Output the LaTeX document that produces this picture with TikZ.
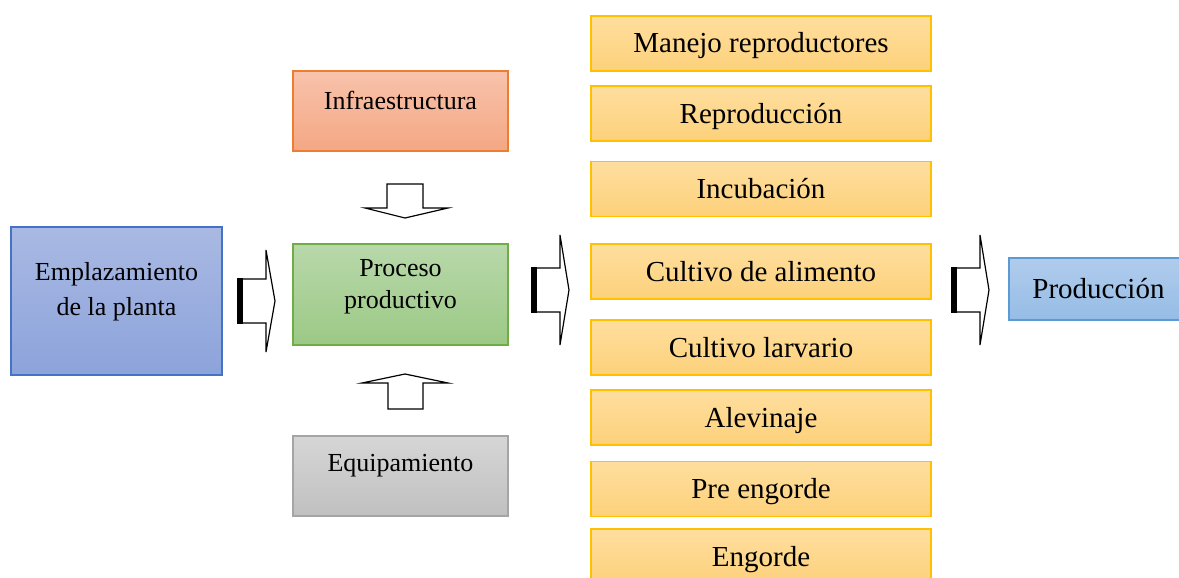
\documentclass[tikz,border=0pt]{standalone}
\usepackage{fontspec}
\setmainfont{Liberation Serif}
\definecolor{bluetop}{HTML}{A9B9E3}
\definecolor{bluebot}{HTML}{8CA3DB}
\definecolor{blueline}{HTML}{4472C4}
\definecolor{orgtop}{HTML}{F8C3AC}
\definecolor{orgbot}{HTML}{F4A784}
\definecolor{orgline}{HTML}{ED7D31}
\definecolor{grntop}{HTML}{B8D8AA}
\definecolor{grnbot}{HTML}{9CC986}
\definecolor{grnline}{HTML}{70AD47}
\definecolor{grytop}{HTML}{D6D6D6}
\definecolor{grybot}{HTML}{C0C0C0}
\definecolor{gryline}{HTML}{A5A5A5}
\definecolor{yeltop}{HTML}{FEDE9E}
\definecolor{yelbot}{HTML}{FDD17B}
\definecolor{yelline}{HTML}{FFC000}
\definecolor{lbtop}{HTML}{B0CCEC}
\definecolor{lbbot}{HTML}{96BCE6}
\definecolor{lbline}{HTML}{5B9BD5}
\tikzset{
  pbox/.style n args={3}{draw=#3, line width=1.2pt, top color=#1, bottom color=#2, rectangle, inner sep=0pt},
  ltxt/.style={font=\fontsize{26}{35}\selectfont, align=center, text=black},
  rtxt/.style={font=\fontsize{29}{35}\selectfont, align=center, text=black},
  stagebox/.style={pbox={yeltop}{yelbot}{yelline}, minimum width=340pt, minimum height=55pt, rtxt, text height=24pt, text depth=5pt},
  blockarr/.style={draw=black, fill=white, line width=1.2pt, line join=miter},
}
\newcommand\blockarrowright[3]{%
  \draw[blockarr] (#1,#2-22) -- (#1+28,#2-22) -- (#1+28,#2-#3) -- (#1+37,#2) -- (#1+28,#2+#3) -- (#1+28,#2+22) -- (#1,#2+22) -- cycle;
  \fill[black] (#1-1,#2-22.6) rectangle (#1+5,#2+22.6);}
\begin{document}
\begin{tikzpicture}[x=1pt,y=-1pt]
\useasboundingbox (0,0) rectangle (1179,578);
\clip (0,0) rectangle (1179,578);
% left box
\node[pbox={bluetop}{bluebot}{blueline}, minimum width=211pt, minimum height=148pt] (empl) at (116.5,301) {};
\node[ltxt] (emplt) at (116.5,292) {Emplazamiento\\de la planta};
% middle column
\node[pbox={orgtop}{orgbot}{orgline}, minimum width=215pt, minimum height=80pt] (infra) at (400.5,111) {};
\node[ltxt] (infrat) at (400.5,100) {Infraestructura};
\node[pbox={grntop}{grnbot}{grnline}, minimum width=215pt, minimum height=101pt] (proc) at (400.5,294.5) {};
\node[ltxt, font=\fontsize{26}{32}\selectfont] (proct) at (400.5,287) {Proceso\\productivo};
\node[pbox={grytop}{grybot}{gryline}, minimum width=215pt, minimum height=80pt] (equip) at (400.5,476) {};
\node[ltxt] (equipt) at (400.5,466) {Equipamiento};
% right column
\node[stagebox] (s1) at (761,43.5) {Manejo reproductores};
\node[stagebox] (s2) at (761,113.5) {Reproducción};
\node[stagebox] (s3) at (761,189) {Incubación};
\node[stagebox] (s4) at (761,271.5) {Cultivo de alimento};
\node[stagebox] (s5) at (761,347.5) {Cultivo larvario};
\node[stagebox] (s6) at (761,417.5) {Alevinaje};
\node[stagebox] (s7) at (761,489) {Pre engorde};
\node[stagebox] (s8) at (761,556.5) {Engorde};
% output
\node[pbox={lbtop}{lbbot}{lbline}, minimum width=176pt, minimum height=62pt, rtxt] (prod) at (1097,289) {};
\node[rtxt] (prodt) at (1098.5,289) {Producción};
% block arrows
\blockarrowright{238}{301}{51}
\blockarrowright{532}{290}{55}
\blockarrowright{952}{290}{55}
\draw[blockarr] (387,184) -- (423,184) -- (423,208) -- (448,208) -- (405,218) -- (365,208) -- (387,208) -- cycle;
\draw[blockarr] (388,409) -- (423,409) -- (423,383) -- (448,383) -- (405,374) -- (362,383) -- (388,383) -- cycle;
\end{tikzpicture}
\end{document}
